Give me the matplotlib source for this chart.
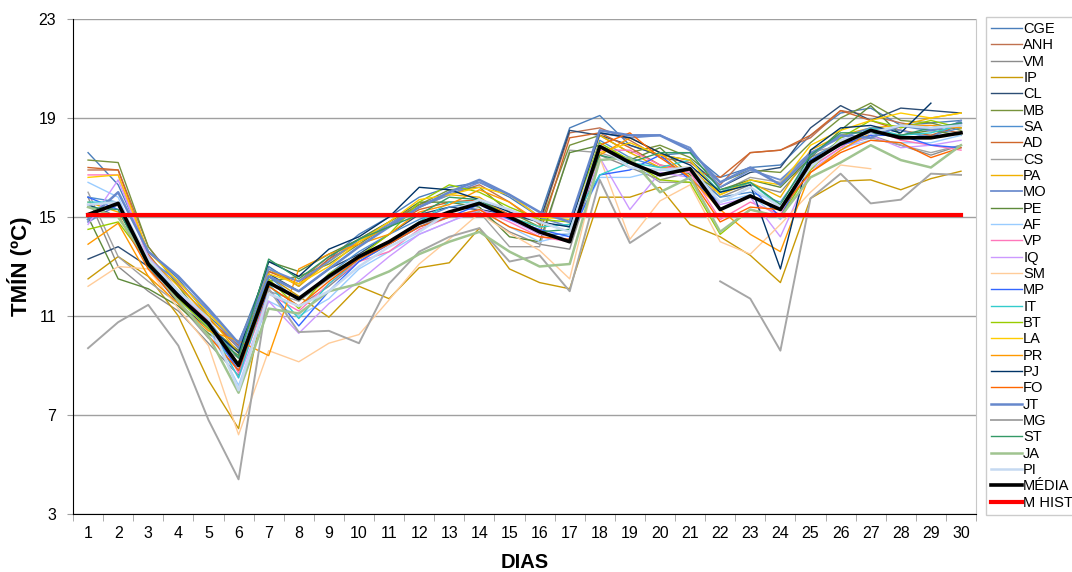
import numpy as np
import matplotlib
matplotlib.use('Agg')
import matplotlib.pyplot as plt

plt.rcParams['font.family'] = ['Liberation Sans', 'DejaVu Sans']

nan = np.nan
dias = list(range(1, 31))

CGE = [17.6, 16.3, 13.6, 12.5, 11.0, 9.9, 13.0, 12.2, 13.3, 14.3, 15.0, 15.8, 16.2, 16.4, 15.8, 15.0, 18.6, 19.1, 17.9, 17.5, 17.6, 16.6, 17.0, 17.1, 18.3, 19.2, 19.4, 18.7, 18.8, 18.9]
ANH = [16.9, 16.9, 13.8, 12.3, 10.9, 9.7, 12.8, 12.4, 13.4, 14.1, 14.8, 15.5, 15.9, 16.3, 15.6, 14.7, 18.4, 18.6, 18.1, 17.4, 17.2, 16.3, 17.6, 17.7, 18.2, 19.3, 19.1, 18.8, 18.6, 18.4]
VM = [15.8, 13.0, 12.0, 11.2, 9.9, 8.6, 12.2, 11.4, 12.2, 13.2, 13.9, 14.6, 15.1, 15.2, 14.4, 13.9, 13.7, 17.5, 17.0, 16.5, 16.8, 15.8, 16.3, 16.0, 17.4, 18.0, 18.3, 17.9, 17.5, 17.9]
IP = [12.5, 13.4, 12.6, 11.0, 8.4, 6.45, 12.6, 11.8, 10.95, 12.2, 11.7, 12.95, 13.15, 14.55, 12.9, 12.35, 12.1, 15.8, 15.8, 16.2, 14.7, 14.2, 13.45, 12.35, 15.75, 16.45, 16.5, 16.1, 16.55, 16.85]
CL = [13.3, 13.8, 13.0, 11.5, 10.5, 9.6, 12.7, 12.0, 12.9, 13.5, 14.3, 15.1, 15.4, 15.3, 15.1, 14.8, 18.5, 18.3, 17.9, 17.5, 17.3, 16.2, 16.8, 17.0, 18.6, 19.5, 18.9, 19.4, 19.3, 19.2]
MB = [17.3, 17.2, 13.8, 12.2, 10.6, 9.6, 12.4, 12.6, 13.1, 13.9, 14.7, 15.5, 16.1, 16.2, 15.2, 14.6, 17.9, 18.3, 17.6, 17.9, 17.4, 16.4, 16.9, 16.8, 18.0, 19.0, 19.6, 18.9, 18.8, 18.5]
SA = [15.8, 15.6, 13.2, 11.9, 10.8, 9.3, 12.6, 11.6, 12.7, 13.6, 14.3, 14.9, 15.4, 15.6, 15.1, 14.3, 14.3, 18.1, 17.4, 17.0, 16.9, 15.8, 16.0, 15.6, 17.3, 18.1, 18.4, 18.2, 18.3, 18.6]
AD = [17.0, 16.9, 13.5, 12.0, 10.9, 9.8, 12.8, 12.3, 13.3, 14.0, 14.6, 15.3, 15.6, 15.7, 15.1, 14.3, 18.2, 18.4, 17.8, 17.1, 16.9, 16.6, 17.6, 17.7, 18.3, 19.3, 18.9, 18.5, 18.3, 18.7]
CS = [16.0, 13.4, 12.4, 11.5, 10.1, 9.3, 12.0, 11.6, 12.5, 13.3, 14.0, 14.7, 15.0, 15.2, 13.8, 13.8, 17.7, 17.6, 17.2, 16.4, 16.4, 16.0, 16.6, 16.4, 17.6, 17.9, 18.2, 17.9, 17.6, 17.9]
PA = [15.6, 15.2, 13.4, 12.2, 11.0, 9.5, 12.9, 12.2, 13.2, 14.0, 14.6, 15.4, 15.9, 15.8, 15.0, 14.6, 14.7, 18.3, 17.6, 17.0, 17.0, 15.9, 16.4, 15.8, 17.7, 18.3, 18.6, 18.7, 19.0, 19.2]
MO = [14.8, 15.5, 13.3, 12.4, 11.2, 9.7, 12.9, 12.4, 13.2, 14.1, 14.7, 15.4, 15.9, 16.4, 15.9, 15.0, 14.6, 18.4, 18.2, 18.3, 17.8, 16.2, 16.9, 16.5, 17.6, 18.2, 18.6, 18.5, 18.2, 18.9]
PE = [15.0, 12.5, 12.1, 11.4, 10.3, 9.4, 13.2, 12.8, 13.5, 14.1, 14.8, 15.6, 15.6, 15.4, 14.2, 14.0, 17.6, 17.9, 17.3, 17.8, 16.7, 16.1, 16.5, 16.2, 17.4, 18.5, 19.5, 18.3, 18.5, 18.3]
AF = [16.4, 15.8, 13.0, 11.7, 10.5, 8.2, 11.6, 11.0, 11.7, 12.9, 13.6, 14.3, 14.8, 15.3, 14.6, 14.0, 14.3, 16.6, 16.6, 16.9, 16.8, 15.6, 15.9, 14.9, 17.0, 17.8, 18.1, 18.0, 18.0, 18.3]
VP = [16.7, 16.7, 13.3, 12.0, 10.8, 8.7, 11.9, 11.2, 12.3, 13.2, 13.6, 14.5, 15.0, 15.3, 14.8, 14.2, 14.0, 17.7, 17.7, 17.1, 16.8, 14.9, 15.6, 15.1, 17.0, 17.8, 18.6, 18.1, 17.9, 17.7]
IQ = [14.7, 16.5, 13.4, 12.0, 10.6, 8.5, 11.6, 10.3, 11.5, 12.4, 13.4, 14.3, 14.8, 15.3, 14.9, 14.3, 14.1, 17.4, 15.3, 16.8, 16.6, 15.5, 15.8, 14.2, 16.9, 17.7, 18.3, 17.8, 17.9, 18.1]
SM = [12.2, 13.0, 12.9, 11.3, 9.8, 6.2, 9.6, 9.15, 9.9, 10.25, 11.65, 13.1, 14.1, 15.15, 14.35, 13.65, 12.5, 17.4, 14.1, 15.65, 16.3, 14.0, 13.5, 14.7, 16.0, 17.1, 16.95, nan, nan, nan]
MP = [15.8, 15.3, 13.1, 11.7, 10.6, 8.8, 12.1, 10.6, 12.0, 13.2, 13.9, 14.6, 15.0, 15.5, 14.9, 14.5, 14.2, 16.7, 16.9, 17.5, 16.5, 15.6, 16.2, 15.0, 17.3, 17.9, 18.3, 18.3, 17.9, 17.8]
IT = [15.6, 15.6, 13.2, 11.8, 10.7, 8.5, 12.3, 10.9, 12.3, 13.3, 14.0, 14.8, 15.6, 15.6, 15.0, 14.6, 14.7, 16.7, 17.2, 17.0, 17.3, 16.0, 16.4, 15.4, 17.2, 17.9, 18.6, 18.3, 18.4, 18.7]
BT = [14.5, 14.8, 13.2, 11.7, 10.5, 9.1, 12.5, 11.3, 12.7, 13.4, 14.3, 15.6, 16.3, 16.0, 15.4, 14.9, 14.8, 18.0, 17.3, 16.5, 16.4, 14.3, 15.3, 15.0, 16.9, 18.2, 18.9, 18.6, 18.9, 18.6]
LA = [16.6, 16.7, 13.6, 12.4, 11.1, 9.9, 12.7, 12.3, 13.0, 14.0, 14.8, 15.7, 15.9, 16.2, 15.9, 15.0, 14.9, 17.6, 18.0, 17.5, 17.3, 15.9, 16.5, 16.3, 17.9, 18.5, 18.9, 19.2, 19.0, 19.2]
PR = [13.9, 14.75, 12.6, 11.5, 10.4, 10.0, 9.4, 12.9, 13.5, 13.9, 14.3, 15.2, 15.5, 16.1, 15.6, 14.8, 14.4, 17.5, 18.2, 17.6, 16.6, 15.3, 14.3, 13.6, 16.8, 17.7, 18.4, 18.7, 18.7, 18.6]
PJ = [15.5, 15.0, 13.2, 11.9, 10.6, 9.5, 13.2, 12.6, 13.7, 14.2, 15.0, 16.2, 16.1, 15.7, 15.2, 14.8, 14.6, 18.4, 18.2, 17.6, 17.1, 16.0, 16.3, 12.9, 17.7, 18.6, 18.7, 18.4, 19.6, nan]
FO = [15.1, 15.1, 12.9, 11.6, 10.2, 8.8, 12.2, 11.4, 12.4, 13.3, 13.9, 14.6, 15.0, 15.3, 14.6, 14.2, 14.1, 17.9, 18.4, 17.4, 16.6, 14.8, 15.4, 15.3, 16.8, 17.6, 18.1, 18.0, 17.4, 17.8]
JT = [14.9, 16.0, 13.6, 12.6, 11.3, 9.9, 12.6, 12.0, 12.9, 13.8, 14.6, 15.4, 16.0, 16.5, 15.9, 15.2, 14.8, 18.5, 18.3, 18.3, 17.7, 16.4, 17.0, 16.3, 17.5, 18.3, 18.2, 18.7, 18.5, 18.8]
MG = [9.7, 10.75, 11.45, 9.8, 6.8, 4.4, 12.1, 10.35, 10.4, 9.9, 12.3, 13.6, 14.2, 14.55, 13.2, 13.45, 12.0, 16.5, 13.95, 14.75, nan, 12.4, 11.7, 9.6, 15.75, 16.75, 15.55, 15.7, 16.75, 16.7]
ST = [15.4, 15.3, 13.0, 11.8, 10.6, 9.3, 13.3, 12.5, 13.4, 14.1, 14.6, 15.1, 15.8, 15.7, 15.0, 14.4, 14.5, 17.5, 17.2, 17.6, 17.6, 16.1, 16.4, 15.5, 17.5, 18.4, 18.4, 18.3, 18.6, 18.8]
JA = [15.4, 15.0, 13.2, 11.6, 10.2, 7.9, 11.3, 11.1, 12.0, 12.3, 12.8, 13.5, 14.0, 14.4, 13.6, 13.0, 13.1, 17.3, 17.4, 16.0, 16.6, 14.4, 15.3, 15.0, 16.6, 17.2, 17.9, 17.3, 17.0, 17.9]
PI = [15.5, 15.6, 13.3, 12.0, 10.9, 8.0, 11.9, 11.4, 12.0, 13.0, 13.8, 14.4, 15.2, 15.7, 15.3, 14.8, 14.4, 17.9, 17.0, 16.9, 17.0, 15.6, 16.2, 15.4, 17.0, 18.1, 18.4, 18.7, 18.6, 18.7]

MEDIA = [15.1, 15.55, 13.1, 11.8, 10.7, 9.0, 12.35, 11.7, 12.6, 13.4, 14.0, 14.75, 15.2, 15.55, 15.0, 14.4, 14.0, 17.85, 17.2, 16.7, 16.95, 15.3, 15.85, 15.3, 17.2, 17.95, 18.5, 18.2, 18.2, 18.4]
M_HIST = [15.1] * 30

estacoes = [
    ('CGE', CGE, '#4a7ebb', 1.0),
    ('ANH', ANH, '#c0714f', 1.0),
    ('VM', VM, '#8c8c8c', 1.0),
    ('IP', IP, '#c99a06', 1.0),
    ('CL', CL, '#2c4d75', 1.0),
    ('MB', MB, '#77933c', 1.0),
    ('SA', SA, '#4f8fd0', 1.0),
    ('AD', AD, '#d0662a', 1.0),
    ('CS', CS, '#a0a0a0', 1.0),
    ('PA', PA, '#f0b000', 1.0),
    ('MO', MO, '#6f8fcf', 1.3),
    ('PE', PE, '#5e8a3a', 1.0),
    ('AF', AF, '#99ccff', 1.0),
    ('VP', VP, '#ff77bb', 1.0),
    ('IQ', IQ, '#cc99ff', 1.0),
    ('SM', SM, '#ffcc99', 1.0),
    ('MP', MP, '#3366ff', 1.0),
    ('IT', IT, '#33cccc', 1.0),
    ('BT', BT, '#99cc00', 1.0),
    ('LA', LA, '#ffcc00', 1.0),
    ('PR', PR, '#ff9900', 1.0),
    ('PJ', PJ, '#003366', 1.0),
    ('FO', FO, '#ff6600', 1.0),
    ('JT', JT, '#6688cc', 1.8),
    ('MG', MG, '#a6a6a6', 1.4),
    ('ST', ST, '#339966', 1.0),
    ('JA', JA, '#a0c490', 1.8),
    ('PI', PI, '#c5d9f1', 1.8),
]

fig = plt.figure(figsize=(10.72, 5.72), dpi=100)
ax = fig.add_axes([0.0681, 0.1014, 0.8424, 0.8654])

for nome, vals, cor, lw in estacoes:
    ax.plot(dias, vals, color=cor, lw=lw, label=nome)
ax.plot(dias, MEDIA, color='black', lw=2.6, label='MÉDIA')
ax.plot(dias, M_HIST, color='#ff0000', lw=3, label='M HIST')

ax.set_xlim(0.5, 30.5)
ax.set_ylim(3, 23)
ax.set_yticks([3, 7, 11, 15, 19, 23])
ax.set_xticks(dias)
ax.set_xticks(np.arange(0.5, 31, 1), minor=True)
ax.tick_params(axis='x', which='major', length=0, labelsize=11.5, pad=9)
ax.tick_params(axis='x', which='minor', length=5, color='#a0a0a0')
ax.tick_params(axis='y', length=4, color='#a0a0a0', labelsize=11.5, pad=8)
ax.yaxis.grid(True, color='#a0a0a0', lw=1)
ax.set_axisbelow(True)
ax.spines['left'].set_color('black')
ax.spines['bottom'].set_color('black')
ax.spines['top'].set_visible(False)
ax.spines['right'].set_color('#c8c8c8')

ax.set_ylabel('TMÍN (ºC)', fontsize=16, fontweight='bold', labelpad=5)
ax.set_xlabel('DIAS', fontsize=14.5, fontweight='bold', labelpad=8)

leg = fig.legend(loc='upper left', bbox_to_anchor=(986 / 1072, 1 - 17 / 572),
                 fontsize=10.5, handlelength=2.1, handletextpad=0.1,
                 labelspacing=0.16, borderpad=0.35, frameon=True, fancybox=False,
                 borderaxespad=0)
leg.get_frame().set_edgecolor('#c0c0c0')
leg.get_frame().set_linewidth(1)

fig.savefig('out.png', dpi=100)
